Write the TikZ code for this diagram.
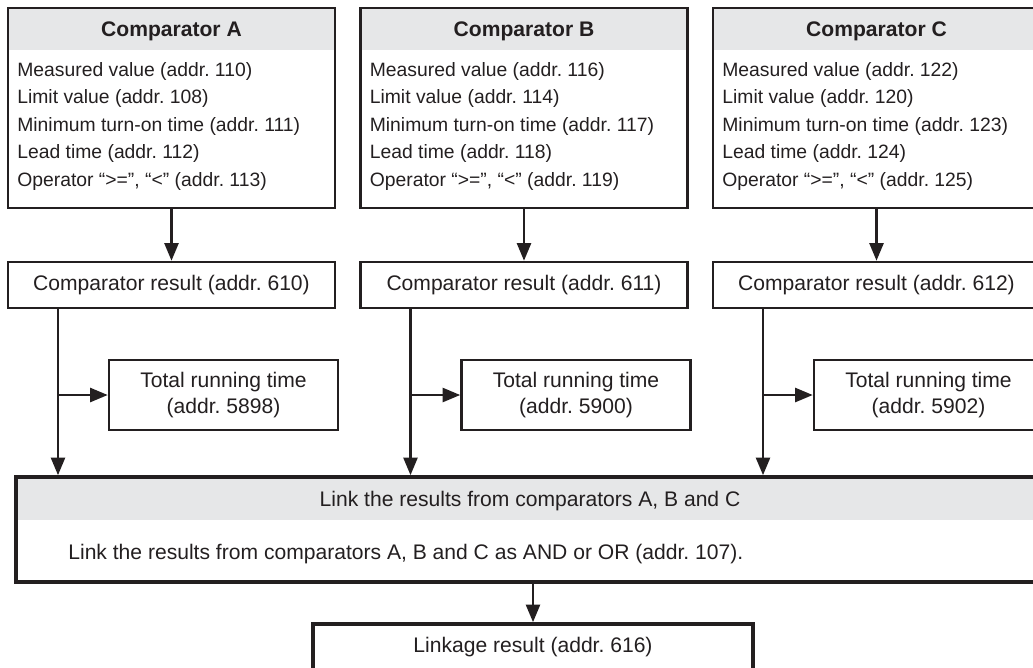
\documentclass[tikz,border=0pt]{standalone}
\usepackage{fontspec}
\setmainfont{Liberation Sans}
\usetikzlibrary{arrows.meta}
\frenchspacing

\definecolor{ink}{HTML}{231F20}
\definecolor{band}{HTML}{E6E7E8}

\tikzset{
  cmpbox/.style={draw=ink, line width=1.5pt, minimum width=6.54cm, minimum height=4cm, inner sep=0pt},
  cmphead/.style={fill=band, minimum width=6.54cm, minimum height=0.84cm, inner sep=0pt, text depth=0pt, font=\bfseries\fontsize{12}{14}\selectfont},
  itemline/.style={anchor=base west, inner sep=0pt, font=\fontsize{11}{13}\selectfont},
  resbox/.style={draw=ink, line width=1.5pt, minimum width=6.54cm, minimum height=0.92cm, inner sep=0pt},
  runbox/.style={draw=ink, line width=1.5pt, minimum width=4.58cm, minimum height=1.4cm, inner sep=0pt, align=center, font=\fontsize{12}{14.7}\selectfont},
  linkhead/.style={fill=band, minimum width=20.56cm, minimum height=0.86cm, inner sep=0pt, text depth=0pt},
  linkbox/.style={draw=ink, line width=2.1pt, minimum width=20.56cm, minimum height=2.1cm, inner sep=0pt},
  outbox/.style={draw=ink, line width=2.1pt, minimum width=8.8cm, minimum height=0.92cm, inner sep=0pt},
  flow/.style={draw=ink, line width=1.3pt, -{Triangle[length=10pt, width=8pt]}},
}

\begin{document}
\begin{tikzpicture}[x=0.02cm, y=-0.02cm, font=\fontsize{12}{14}\selectfont, text=ink]
\useasboundingbox (0,0) rectangle (1033,667);
\clip (0,0) rectangle (1033,667);

% Comparators A, B, C with their results
\foreach \n/\sx/\mv/\lv/\mt/\ld/\op/\res/\tot in {A/0/110/108/111/112/113/610/5898, B/352.5/116/114/117/118/119/611/5900, C/705/122/120/123/124/125/612/5902} {
  \begin{scope}[shift={(\sx,0)}]
    \node[cmphead] (head\n) at (171.5,29) {Comparator \n};
    \node[cmpbox] (cmp\n) at (171.5,108) {};
    \node[itemline] (mv\n) at (17,76) {Measured value (addr. \mv)};
    \node[itemline] (lv\n) at (17,103.5) {Limit value (addr. \lv)};
    \node[itemline] (mt\n) at (17,131) {Minimum turn-on time (addr. \mt)};
    \node[itemline] (ld\n) at (17,158.5) {Lead time (addr. \ld)};
    \node[itemline] (op\n) at (17,186) {Operator “>=”, “<” (addr. \op)};
    \node[resbox] (res\n) at (171.5,285) {Comparator result (addr. \res)};
    \node[runbox] (run\n) at (223.5,395) {Total running time\\(addr. \tot)};
    \coordinate (tap\n) at (58,308);
  \end{scope}
}

% Linkage of A, B and C
\node[linkhead] (linkhead) at (530,498.5) {Link the results from comparators A, B and C};
\node[linkbox] (link) at (530,529.5) {};
\node[anchor=base west, inner sep=0pt] (linktxt) at (68,559) {Link the results from comparators A, B and C as AND or OR (addr. 107).};
\node[outbox] (linkres) at (533,647) {Linkage result (addr. 616)};

% Connectors
\foreach \n in {A,B,C} {
  \draw[flow] (cmp\n.south) -- (res\n.north);
  \draw[flow] (tap\n) -- (tap\n |- link.north);
  \draw[flow] (tap\n |- run\n.west) -- (run\n.west);
}
\draw[flow] (linkres.north |- link.south) -- (linkres.north);

\end{tikzpicture}
\end{document}
